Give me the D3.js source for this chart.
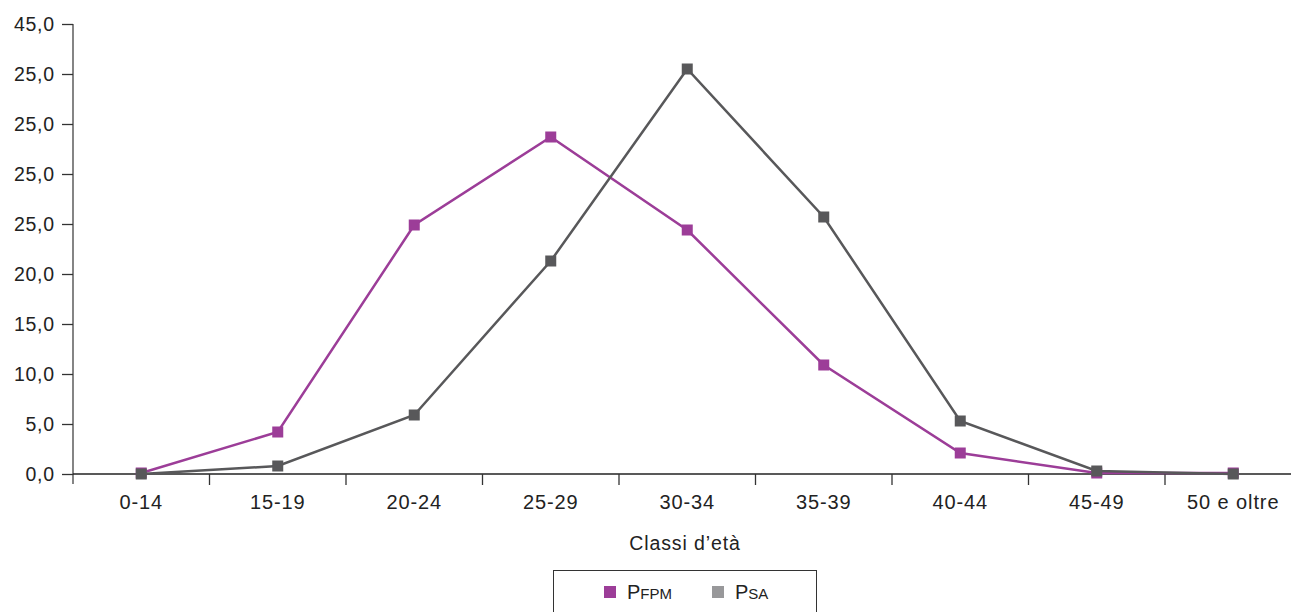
<!DOCTYPE html>
<html><head><meta charset="utf-8">
<script src="https://cdn.jsdelivr.net/npm/d3@7"></script>
<style>
body{margin:0;background:#fff;}
svg{display:block;font-family:"Liberation Sans",Arial,Helvetica,sans-serif;}
</style></head>
<body>
<svg id="c" width="1291" height="612"></svg>
<script>
const categories = ["0-14","15-19","20-24","25-29","30-34","35-39","40-44","45-49","50 e oltre"];
const pfpm = [0.1, 4.2, 24.9, 33.7, 24.4, 10.9, 2.1, 0.1, 0.1];
const psa  = [0.0, 0.8, 5.9, 21.3, 40.5, 25.7, 5.3, 0.3, 0.0];
const yTickValues = [0,5,10,15,20,25,30,35,40,45];
const yTickLabels = ["0,0","5,0","10,0","15,0","20,0","25,0","25,0","25,0","25,0","45,0"];
const xTitle = "Classi d\u2019età";
const seriesNames = [["P","FPM"],["P","SA"]];
const lineColors = ["#9c3d98","#58585a"];
const legendColors = ["#9c3d98","#98989a"];

(function(){
const svg = d3.select("#c");
const mLeft = 73, mRight = 73 + 136.5*9, mTop = 24, mBottom = 474;
const x = d3.scaleBand().domain(categories).range([mLeft, mRight]).paddingInner(0).paddingOuter(0);
const y = d3.scaleLinear().domain([0,45]).range([mBottom, mTop]);
const fs = "19.5px", ls = "0.7px";

// y axis
const yAxis = svg.append("g").attr("transform",`translate(${mLeft},0)`)
  .call(d3.axisLeft(y).tickValues(yTickValues).tickFormat((d,i)=>yTickLabels[i]).tickSize(11).tickPadding(8));
yAxis.select(".domain").attr("stroke","#666").attr("stroke-width",1.6).attr("d",`M0,${mTop}V${mBottom+10}`);
yAxis.selectAll(".tick line").attr("stroke","#333").attr("stroke-width",1.3);
yAxis.selectAll(".tick text").attr("fill","#222").style("font-size",fs).style("letter-spacing",ls)
  .attr("dx","0.7px");

// x axis
const xAxis = svg.append("g").attr("transform",`translate(0,${mBottom})`)
  .call(d3.axisBottom(x).tickSize(0).tickPadding(21));
xAxis.select(".domain").attr("stroke","#222").attr("stroke-width",1.3).attr("d",`M${mLeft},0H1291`);
xAxis.selectAll(".tick text").attr("fill","#222").style("font-size","20px").style("letter-spacing","0.9px");
xAxis.selectAll(".sep").data(categories.slice(1)).enter().append("line")
  .attr("x1",d=>x(d)).attr("x2",d=>x(d)).attr("y1",0).attr("y2",11)
  .attr("stroke","#333").attr("stroke-width",1.3);

svg.append("text").attr("x",685).attr("y",550).attr("text-anchor","middle")
  .attr("fill","#222").style("font-size",fs).style("letter-spacing","0.9px").text(xTitle);

// series
const cx = d => x(d) + x.bandwidth()/2;
[pfpm, psa].forEach((vals, si) => {
  const pts = categories.map((c,i)=>[cx(c), y(vals[i])]);
  svg.append("path").attr("d", d3.line()(pts)).attr("fill","none")
    .attr("stroke", lineColors[si]).attr("stroke-width",2.5);
  svg.selectAll(null).data(pts).enter().append("rect")
    .attr("x",d=>d[0]-5.5).attr("y",d=>d[1]-5.5).attr("width",11).attr("height",11)
    .attr("fill", lineColors[si]);
});

// legend
svg.append("rect").attr("x",553.5).attr("y",570.5).attr("width",263).attr("height",60)
  .attr("fill","#fff").attr("stroke","#333").attr("stroke-width",1);
const lx = [604, 712];
seriesNames.forEach((n,i)=>{
  svg.append("rect").attr("x",lx[i]).attr("y",586).attr("width",12).attr("height",12).attr("fill",legendColors[i]);
  const t = svg.append("text").attr("x",lx[i]+23).attr("y",599).attr("fill","#222");
  t.append("tspan").style("font-size","20px").text(n[0]);
  t.append("tspan").style("font-size","15px").text(n[1]);
});
})();
</script>
</body></html>
